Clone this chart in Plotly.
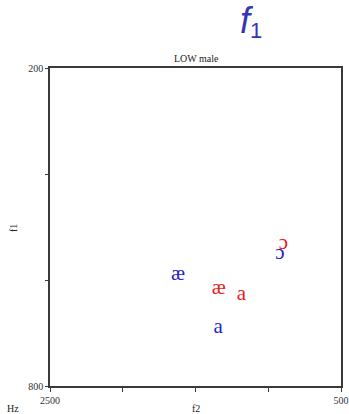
import plotly.graph_objects as go

# Vowel formant means (Hz) for the LOW vowels, two speaker groups
vowels_blue = ["æ", "a", "ɔ"]
f2_blue = [1620, 1345, 920]
f1_blue = [590, 690, 550]

vowels_red = ["æ", "a", "ɔ"]
f2_red = [1340, 1185, 895]
f1_red = [617, 627, 531]

x_ticks = [2500, 2000, 1500, 1000, 500]
x_tick_text = ["2500", " ", " ", " ", "500"]
y_ticks = [200, 400, 600, 800]
y_tick_text = ["200", " ", " ", "800"]

BLUE = "#2323c8"
RED = "#e82020"
SERIF = "Liberation Serif"
SANS = "Liberation Sans"

fig = go.Figure()
fig.add_trace(go.Scatter(
    x=f2_blue, y=f1_blue, text=vowels_blue, mode="text",
    textposition="middle center",
    textfont=dict(family=SERIF, size=21, color=BLUE),
    hoverinfo="skip", showlegend=False,
))
fig.add_trace(go.Scatter(
    x=f2_red, y=f1_red, text=vowels_red, mode="text",
    textposition="middle center",
    textfont=dict(family=SERIF, size=21, color=RED),
    hoverinfo="skip", showlegend=False,
))

line_style = dict(
    showgrid=False, zeroline=False, showline=True, mirror=True,
    linecolor="#3a3a3a", linewidth=1.5, automargin=False,
    ticks="outside", tickcolor="#3a3a3a", tickwidth=1,
    tickfont=dict(family=SERIF, size=10, color="#333"),
)

fig.update_layout(
    width=349, height=414,
    margin=dict(l=50, r=8, t=68, b=28, autoexpand=False),
    paper_bgcolor="white", plot_bgcolor="white",
    xaxis=dict(range=[2500, 500], tickvals=x_ticks, ticktext=x_tick_text,
               ticklen=4, **line_style),
    yaxis=dict(range=[800, 200], tickvals=y_ticks, ticktext=y_tick_text,
               ticklen=3, **line_style),
)

# free-standing labels, positioned in page pixels
def label(text, px, py, size=10, family=SERIF, color="#222", angle=0):
    fig.add_annotation(
        text=text, xref="paper", yref="paper",
        x=(px - 50) / 291, y=(386 - py) / 318,
        xanchor="center", yanchor="middle", showarrow=False, textangle=angle,
        font=dict(family=family, size=size, color=color),
    )

label("<i>f</i>", 247, 21, size=36, family=SANS, color="#3535b5")
label("1", 256, 31, size=22, family=SANS, color="#3535b5")
label("LOW male", 196, 58)
label("f2", 196, 408)
label("Hz", 13, 408)
label("f1", 13, 228, angle=-90)

fig.write_html("out.html")
